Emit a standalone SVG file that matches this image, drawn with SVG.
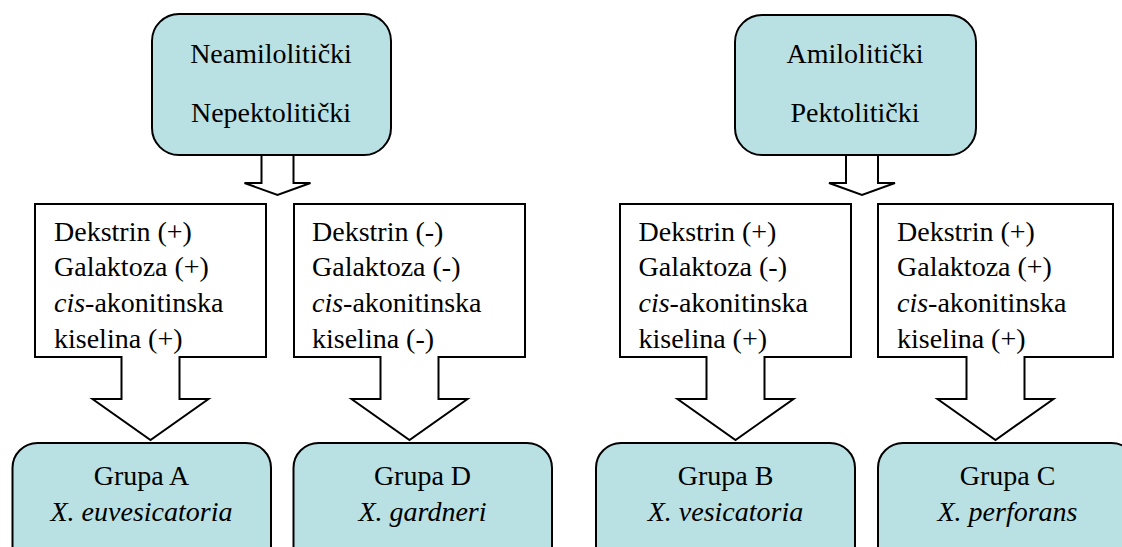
<svg xmlns="http://www.w3.org/2000/svg" width="1122" height="547" viewBox="0 0 1122 547" font-family="'Liberation Serif', 'DejaVu Serif', serif">
<style>
.rnd{fill:#B9E0E3;stroke:#000;stroke-width:2}
.call{fill:#fff;stroke:#000;stroke-width:2;stroke-linejoin:miter}
text{font-family:'Liberation Serif','DejaVu Serif',serif;font-size:28px;fill:#000}
.c{text-anchor:middle}
.i{font-style:italic}
</style>
<rect width="1122" height="547" fill="#fff"/>
<g id="connectors">
<path class="call" d="M261.5,154 V183 H244.5 L277.5,195 L310.5,183 H293.5 V154"/>
<path class="call" d="M846,154 V183 H829 L862,195 L895,183 H878 V154"/>
</g>
<g id="top-left">
<rect class="rnd" x="152" y="14" width="239" height="141" rx="27"/>
<text class="c" x="271" y="63">Neamilolitički</text>
<text class="c" x="271" y="122">Nepektolitički</text>
</g>
<g id="top-right">
<rect class="rnd" x="735" y="15" width="241" height="140" rx="27"/>
<text class="c" x="855" y="63">Amilolitički</text>
<text class="c" x="855" y="122">Pektolitički</text>
</g>
<g id="test-1">
<path class="call" d="M35,204 H266 V357 H179.5 V399 H208.5 L150.5,440 L92.5,399 H121.5 V357 H35 Z"/>
<text x="54" y="241">Dekstrin (+)</text>
<text x="54" y="276">Galaktoza (+)</text>
<text x="54" y="312"><tspan class="i">cis</tspan>-akonitinska</text>
<text x="54" y="348">kiselina (+)</text>
</g>
<g id="test-2">
<path class="call" d="M294,204 H525 V357 H438.5 V399 H467.5 L409.5,440 L351.5,399 H380.5 V357 H294 Z"/>
<text x="312" y="241">Dekstrin (-)</text>
<text x="312" y="276">Galaktoza (-)</text>
<text x="312" y="312"><tspan class="i">cis</tspan>-akonitinska</text>
<text x="312" y="348">kiselina (-)</text>
</g>
<g id="test-3">
<path class="call" d="M620,204 H851 V357 H764.5 V399 H793.5 L735.5,440 L677.5,399 H706.5 V357 H620 Z"/>
<text x="638.5" y="241">Dekstrin (+)</text>
<text x="638.5" y="276">Galaktoza (-)</text>
<text x="638.5" y="312"><tspan class="i">cis</tspan>-akonitinska</text>
<text x="638.5" y="348">kiselina (+)</text>
</g>
<g id="test-4">
<path class="call" d="M878,204 H1113 V357 H1024.5 V399 H1053.5 L995.5,440 L937.5,399 H966.5 V357 H878 Z"/>
<text x="897" y="241">Dekstrin (+)</text>
<text x="897" y="276">Galaktoza (+)</text>
<text x="897" y="312"><tspan class="i">cis</tspan>-akonitinska</text>
<text x="897" y="348">kiselina (+)</text>
</g>
<g id="grupa-a">
<rect class="rnd" x="12.5" y="443" width="258.5" height="130" rx="25"/>
<text class="c" x="141.5" y="485">Grupa A</text>
<text class="c i" x="141.5" y="521">X. euvesicatoria</text>
</g>
<g id="grupa-d">
<rect class="rnd" x="293.5" y="443" width="258.5" height="130" rx="25"/>
<text class="c" x="422.5" y="485">Grupa D</text>
<text class="c i" x="422.5" y="521">X. gardneri</text>
</g>
<g id="grupa-b">
<rect class="rnd" x="596" y="443" width="259" height="130" rx="25"/>
<text class="c" x="725.5" y="485">Grupa B</text>
<text class="c i" x="725.5" y="521">X. vesicatoria</text>
</g>
<g id="grupa-c">
<rect class="rnd" x="878" y="443" width="258.5" height="130" rx="25"/>
<text class="c" x="1007.5" y="485">Grupa C</text>
<text class="c i" x="1007.5" y="521">X. perforans</text>
</g>
</svg>
